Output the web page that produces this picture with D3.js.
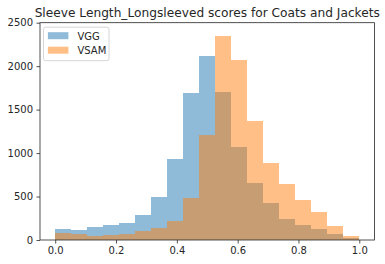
<!DOCTYPE html>
<html><head><meta charset="utf-8">
<script src="https://cdn.jsdelivr.net/npm/d3@7"></script>
<style>body{margin:0;background:#fff}svg{display:block}text{font-family:"DejaVu Sans",sans-serif}</style>
</head><body><svg id="c" width="385" height="264"></svg>
<script>
const title = "Sleeve Length_Longsleeved scores for Coats and Jackets";
const seriesNames = ["VGG", "VSAM"];
const binCount = 19;
const vgg  = [126, 115, 150, 172, 196, 288, 495, 932, 1691, 2117, 1702, 1070, 656, 426, 242, 172, 127, 69, 23];
const vsam = [80, 69, 46, 58, 69, 104, 138, 219, 483, 1208, 2347, 2071, 1371, 886, 644, 460, 322, 161, 46];
const xTicks = [0, 0.2, 0.4, 0.6, 0.8, 1.0];
const yTicks = [0, 500, 1000, 1500, 2000, 2500];
const colors = ["#1f77b4", "#ff7f0e"];

const svg = d3.select("#c");
const L = 40, R = 374.5, T = 22.7, B = 240;
const x = d3.scaleLinear().domain([-0.05, 1.05]).range([L, R]);
const y = d3.scaleLinear().domain([0, 2500]).range([B, T]);
const edges = d3.range(binCount + 1).map(i => i / binCount);

[vgg, vsam].forEach((vals, si) => {
  svg.append("g").selectAll("rect").data(vals).join("rect")
    .attr("x", (d, i) => x(edges[i]))
    .attr("width", (d, i) => x(edges[i + 1]) - x(edges[i]))
    .attr("y", d => y(d))
    .attr("height", d => y(0) - y(d))
    .attr("fill", colors[si]).attr("fill-opacity", 0.5)
    .attr("shape-rendering", "crispEdges");
});

const xa = svg.append("g").attr("transform", `translate(0,${B})`)
  .call(d3.axisBottom(x).tickValues(xTicks).tickFormat(d3.format(".1f")).tickSizeOuter(0).tickSize(3.5).tickPadding(3.5));
const ya = svg.append("g").attr("transform", `translate(${L},0)`)
  .call(d3.axisLeft(y).tickValues(yTicks).tickFormat(d3.format("d")).tickSizeOuter(0).tickSize(3.5).tickPadding(3.5));
[xa, ya].forEach(a => {
  a.select(".domain").remove();
  a.selectAll("text").attr("font-size", 10).attr("fill", "#262626").attr("font-family", "DejaVu Sans");
  a.selectAll("line").attr("stroke", "#262626").attr("stroke-width", 0.8);
});

svg.append("rect").attr("x", L).attr("y", T).attr("width", R - L).attr("height", B - T)
  .attr("fill", "none").attr("stroke", "#262626").attr("stroke-width", 0.8);

svg.append("text").attr("x", (L + R) / 2).attr("y", 17).attr("text-anchor", "middle")
  .attr("font-size", 12.2).attr("fill", "#262626").text(title);

const lg = svg.append("g").attr("transform", `translate(${L + 3.5},${T + 4.5})`);
lg.append("rect").attr("width", 65.5).attr("height", 33.5).attr("rx", 2)
  .attr("fill", "#fff").attr("fill-opacity", 0.8).attr("stroke", "#cccccc").attr("stroke-width", 0.8);
seriesNames.forEach((n, i) => {
  lg.append("rect").attr("x", 4.4).attr("y", 5 + i * 14.5).attr("width", 20.5).attr("height", 7)
    .attr("fill", colors[i]).attr("fill-opacity", 0.5);
  lg.append("text").attr("x", 34).attr("y", 12.5 + i * 14.5).attr("font-size", 10)
    .attr("fill", "#262626").text(n);
});
</script></body></html>
